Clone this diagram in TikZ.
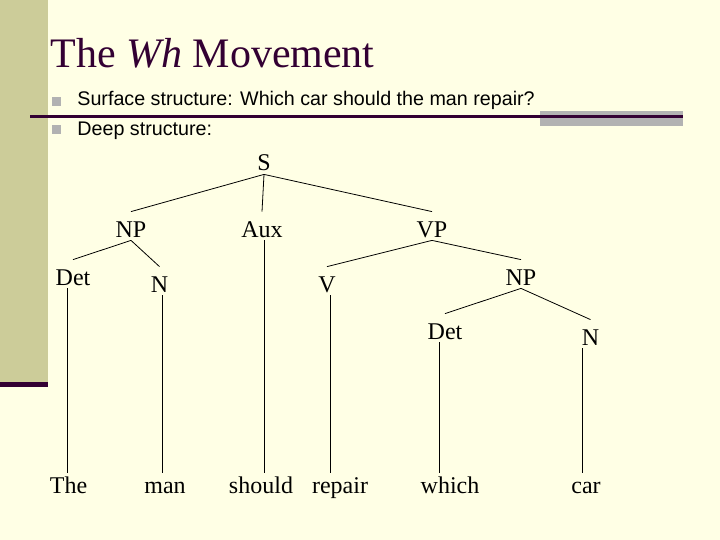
\documentclass[tikz,border=0pt]{standalone}
\usepackage{fontspec}
\setmainfont{Liberation Serif}
\setsansfont{Liberation Sans}

\definecolor{slidebg}{RGB}{255,255,229}
\definecolor{band}{RGB}{204,204,153}
\definecolor{plum}{RGB}{51,0,51}
\definecolor{bulletgray}{RGB}{178,178,178}

\tikzset{
  cat/.style={font=\fontsize{24}{28}\selectfont, anchor=base, inner xsep=2pt, inner ysep=3pt, text height=22pt, text depth=0pt},
  word/.style={font=\fontsize{24}{28}\selectfont, anchor=base, inner ysep=5pt, text height=15pt, text depth=0pt},
  bullet/.style={fill=bulletgray, minimum size=9pt, inner sep=0pt},
  item/.style={font=\sffamily\fontsize{19.7}{24}\selectfont, anchor=base west, inner sep=0pt},
}

\begin{document}
\begin{tikzpicture}[x=1pt, y=-1pt, line width=0.8pt]
		\useasboundingbox (0,0) rectangle (720,540);
		\fill[slidebg] (0,0) rectangle (720,540);
		\fill[band] (0,0) rectangle (48,382);
		\fill[plum] (0,382) rectangle (48,387);
		
		% title and bullets
		\node[anchor=base west, inner sep=0pt, text=plum, font=\fontsize{42}{48}\selectfont] (title) at (50,68) {The \textit{Wh} Movement};
		\fill[bulletgray] (540,111) rectangle (683,126);
		\draw[plum, line width=3pt] (30,117) -- (683,117);
		\node[bullet] (b1) at (56,102) {};
		\node[bullet] (b2) at (56,130) {};
		\node[item] (surface) at (77,106) {Surface structure: Which car should the man repair?};
		\node[item] (deep) at (77,136) {Deep structure:};
		
		% tree
		\node[cat] (s) at (264,171) {S};
		\node[cat] (np) at (131,237) {NP};
		\node[cat] (aux) at (262,237) {Aux};
		\node[cat] (vp) at (432,237) {VP};
		\node[cat] (det) at (73,285) {Det};
		\node[cat] (n) at (159.5,292) {N};
		\node[cat] (v) at (327,292) {V};
		\node[cat] (np2) at (521,285) {NP};
		\node[cat] (det2) at (445,339) {Det};
		\node[cat] (n2) at (590.5,345) {N};
		
		\node[word] (the) at (68.5,493) {The};
		\node[word] (man) at (165,493) {man};
		\node[word] (should) at (261,493) {should};
		\node[word] (repair) at (340,493) {repair};
		\node[word] (which) at (450,493) {which};
		\node[word] (car) at (586,493) {car};
		
		\draw (s.south) -- (np.north);
		\draw (s.south) -- (aux.north);
		\draw (s.south) -- (vp.north);
		\draw (np.south) -- (det.north);
		\draw (np.south) -- (n.north);
		\draw (vp.south) -- (v.north);
		\draw (vp.south) -- (np2.north);
		\draw (np2.south) -- (det2.north);
		\draw (np2.south) -- (n2.north);
		
		\draw ([xshift=-6pt]det.south) -- ([xshift=-6pt]det.south |- the.north);
		\draw ([xshift=2.5pt]n.south) -- ([xshift=2.5pt]n.south |- man.north);
		\draw ([xshift=2pt]aux.south) -- ([xshift=2pt]aux.south |- should.north);
		\draw ([xshift=3pt]v.south) -- ([xshift=3pt]v.south |- repair.north);
		\draw ([xshift=-6pt]det2.south) -- ([xshift=-6pt]det2.south |- which.north);
		\draw ([xshift=-8.5pt]n2.south) -- ([xshift=-8.5pt]n2.south |- car.north);
	\end{tikzpicture}
\end{document}
